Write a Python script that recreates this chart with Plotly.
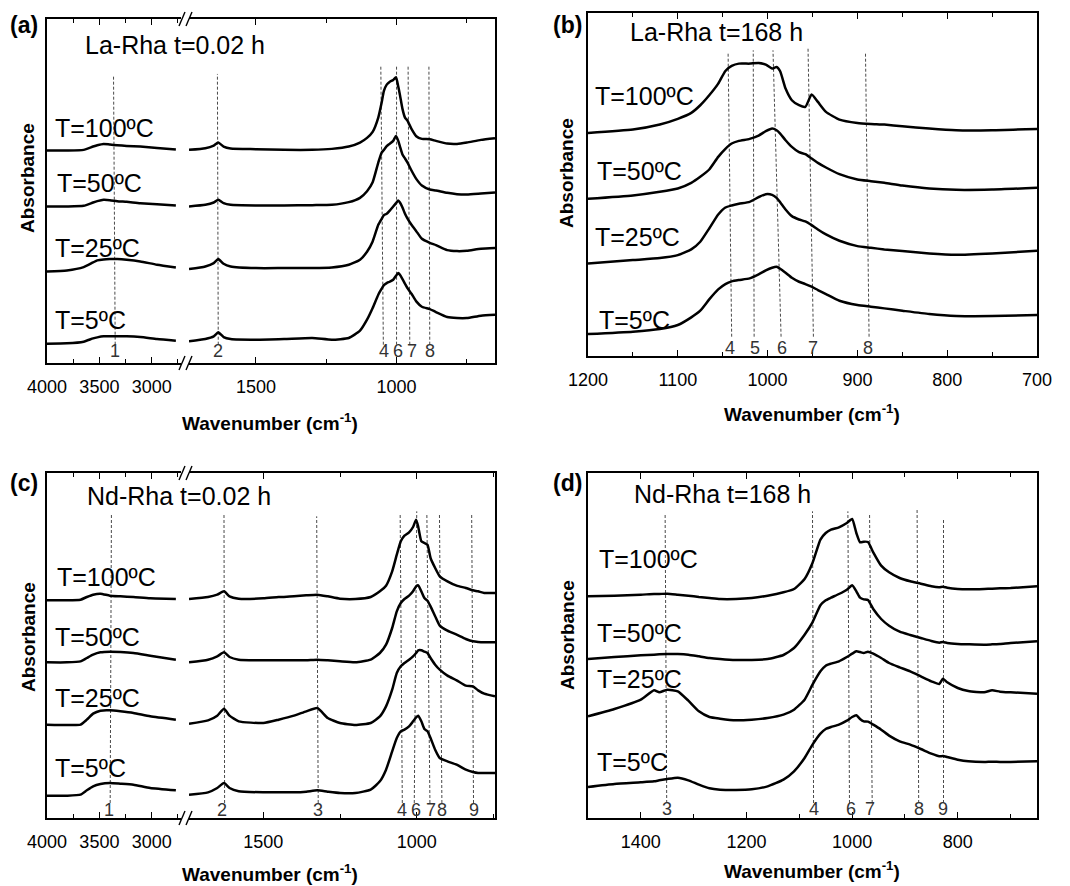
import plotly.graph_objects as go

# ---------------------------------------------------------------------------
# FTIR spectra (absorbance in arbitrary units, curves stacked by temperature)
# ---------------------------------------------------------------------------
TEMP_LABELS = ["T=100ºC", "T=50ºC", "T=25ºC", "T=5ºC"]

# (a) La-Rha, t = 0.02 h  -- high-wavenumber segment
A_WN_HI = [4000, 3810, 3650, 3560, 3520, 3460, 3400, 3330, 3240, 3110, 2950, 2770]
A_HI_T100 = [0.638, 0.638, 0.640, 0.650, 0.654, 0.658, 0.656, 0.654, 0.652, 0.650, 0.646, 0.641]
A_HI_T50 = [0.470, 0.470, 0.472, 0.482, 0.486, 0.490, 0.489, 0.486, 0.484, 0.480, 0.477, 0.473]
A_HI_T25 = [0.275, 0.278, 0.288, 0.302, 0.308, 0.311, 0.312, 0.312, 0.310, 0.305, 0.295, 0.287]
A_HI_T5 = [0.058, 0.059, 0.064, 0.074, 0.077, 0.080, 0.080, 0.080, 0.080, 0.078, 0.072, 0.067]

# (a) La-Rha, t = 0.02 h  -- fingerprint segment
A_WN_LO = [1738, 1680, 1650, 1634, 1615, 1590, 1500, 1400, 1300, 1230, 1170, 1130,
           1105, 1085, 1065, 1053, 1045, 1035, 1025, 1012, 1002, 994, 988, 979,
           970, 962, 947, 930, 910, 882, 860, 820, 785, 750, 700, 650]
A_LO_T100 = [0.640, 0.645, 0.653, 0.662, 0.650, 0.644, 0.642, 0.640, 0.640, 0.643, 0.650, 0.662,
             0.676, 0.694, 0.737, 0.782, 0.817, 0.836, 0.844, 0.850, 0.858, 0.830, 0.805, 0.763,
             0.737, 0.729, 0.703, 0.681, 0.673, 0.672, 0.667, 0.659, 0.658, 0.662, 0.670, 0.675]
A_LO_T50 = [0.470, 0.475, 0.482, 0.490, 0.480, 0.475, 0.473, 0.473, 0.474, 0.475, 0.483, 0.496,
            0.516, 0.543, 0.602, 0.632, 0.640, 0.651, 0.658, 0.667, 0.682, 0.667, 0.650, 0.626,
            0.614, 0.603, 0.578, 0.553, 0.533, 0.521, 0.518, 0.511, 0.507, 0.506, 0.509, 0.512]
A_LO_T25 = [0.282, 0.290, 0.300, 0.312, 0.298, 0.290, 0.285, 0.285, 0.285, 0.287, 0.295, 0.310,
            0.334, 0.365, 0.415, 0.433, 0.444, 0.448, 0.457, 0.470, 0.480, 0.488, 0.482, 0.467,
            0.448, 0.435, 0.415, 0.396, 0.373, 0.361, 0.354, 0.339, 0.336, 0.337, 0.343, 0.345]
A_LO_T5 = [0.065, 0.072, 0.080, 0.092, 0.078, 0.072, 0.070, 0.072, 0.075, 0.070, 0.075, 0.097,
           0.130, 0.165, 0.205, 0.223, 0.234, 0.240, 0.244, 0.250, 0.262, 0.270, 0.265, 0.252,
           0.238, 0.226, 0.208, 0.185, 0.169, 0.162, 0.153, 0.138, 0.135, 0.135, 0.142, 0.145]

# (b) La-Rha, t = 168 h
B_WN = [1200, 1150, 1120, 1100, 1085, 1075, 1065, 1055, 1047, 1040, 1032, 1020, 1010, 1002,
        995, 990, 986, 980, 973, 965, 958, 951, 944, 935, 920, 900, 885, 870, 850, 820,
        790, 750, 700]
B_T100 = [0.670, 0.680, 0.695, 0.712, 0.730, 0.753, 0.783, 0.818, 0.856, 0.871, 0.878, 0.878,
          0.880, 0.875, 0.863, 0.868, 0.855, 0.803, 0.768, 0.753, 0.748, 0.785, 0.763, 0.733,
          0.710, 0.700, 0.697, 0.695, 0.690, 0.683, 0.678, 0.678, 0.682]
B_T50 = [0.472, 0.482, 0.493, 0.503, 0.520, 0.538, 0.560, 0.598, 0.622, 0.638, 0.646, 0.652,
         0.662, 0.675, 0.683, 0.678, 0.668, 0.648, 0.628, 0.612, 0.606, 0.593, 0.580, 0.566,
         0.546, 0.530, 0.525, 0.520, 0.512, 0.503, 0.499, 0.500, 0.505]
B_T25 = [0.278, 0.288, 0.294, 0.303, 0.320, 0.343, 0.383, 0.425, 0.446, 0.452, 0.457, 0.463,
         0.477, 0.486, 0.484, 0.475, 0.462, 0.440, 0.420, 0.410, 0.404, 0.393, 0.380, 0.365,
         0.346, 0.330, 0.325, 0.320, 0.315, 0.308, 0.304, 0.308, 0.316]
B_T5 = [0.066, 0.073, 0.081, 0.093, 0.116, 0.136, 0.170, 0.200, 0.216, 0.224, 0.228, 0.233,
        0.245, 0.257, 0.265, 0.268, 0.262, 0.250, 0.235, 0.223, 0.216, 0.208, 0.198, 0.186,
        0.166, 0.153, 0.148, 0.143, 0.136, 0.126, 0.120, 0.120, 0.123]

# (c) Nd-Rha, t = 0.02 h  -- high-wavenumber segment
C_WN_HI = [4000, 3810, 3680, 3620, 3560, 3490, 3400, 3300, 3175, 3015, 2770]
C_HI_T100 = [0.653, 0.653, 0.655, 0.663, 0.670, 0.673, 0.667, 0.665, 0.663, 0.659, 0.657]
C_HI_T50 = [0.467, 0.467, 0.470, 0.480, 0.490, 0.497, 0.499, 0.498, 0.495, 0.487, 0.475]
C_HI_T25 = [0.280, 0.279, 0.280, 0.295, 0.313, 0.322, 0.323, 0.320, 0.315, 0.305, 0.295]
C_HI_T5 = [0.067, 0.067, 0.070, 0.083, 0.095, 0.102, 0.105, 0.103, 0.100, 0.090, 0.083]

# (c) Nd-Rha, t = 0.02 h  -- fingerprint segment
C_WN_LO = [1742, 1680, 1650, 1628, 1610, 1580, 1500, 1450, 1400, 1360, 1324, 1290, 1250,
           1200, 1150, 1120, 1100, 1080, 1065, 1052, 1040, 1025, 1012, 1002, 995, 985,
           975, 965, 955, 940, 925, 900, 870, 840, 817, 800, 780, 745]
C_LO_T100 = [0.657, 0.663, 0.670, 0.680, 0.665, 0.658, 0.659, 0.663, 0.665, 0.668, 0.670, 0.665,
             0.658, 0.657, 0.663, 0.680, 0.697, 0.740, 0.790, 0.830, 0.847, 0.857, 0.873, 0.895,
             0.873, 0.830, 0.825, 0.820, 0.780, 0.750, 0.725, 0.710, 0.697, 0.690, 0.683, 0.680,
             0.675, 0.675]
C_LO_T50 = [0.467, 0.475, 0.485, 0.497, 0.483, 0.475, 0.473, 0.473, 0.473, 0.473, 0.475, 0.473,
            0.470, 0.467, 0.475, 0.495, 0.520, 0.570, 0.620, 0.645, 0.657, 0.667, 0.680, 0.695,
            0.698, 0.680, 0.660, 0.652, 0.635, 0.605, 0.577, 0.562, 0.550, 0.537, 0.530, 0.528,
            0.527, 0.527]
C_LO_T25 = [0.283, 0.293, 0.307, 0.328, 0.307, 0.290, 0.285, 0.295, 0.307, 0.320, 0.330, 0.300,
            0.285, 0.279, 0.285, 0.305, 0.335, 0.385, 0.435, 0.455, 0.465, 0.475, 0.485, 0.495,
            0.503, 0.503, 0.499, 0.495, 0.480, 0.460, 0.445, 0.427, 0.413, 0.397, 0.395, 0.383,
            0.373, 0.365]
C_LO_T5 = [0.070, 0.077, 0.090, 0.105, 0.090, 0.080, 0.077, 0.077, 0.077, 0.079, 0.083, 0.079,
           0.075, 0.075, 0.085, 0.110, 0.145, 0.200, 0.240, 0.260, 0.265, 0.275, 0.290, 0.302,
           0.307, 0.290, 0.267, 0.260, 0.240, 0.205, 0.180, 0.170, 0.160, 0.145, 0.138, 0.135,
           0.135, 0.135]

# (d) Nd-Rha, t = 168 h
D_WN = [1500, 1450, 1400, 1375, 1365, 1350, 1330, 1310, 1290, 1270, 1250, 1220, 1190, 1160,
        1130, 1110, 1090, 1075, 1060, 1050, 1040, 1025, 1010, 1000, 992, 985, 978, 970, 960,
        945, 930, 910, 890, 870, 850, 835, 828, 820, 800, 780, 750, 735, 720, 700, 650]
D_T100 = [0.665, 0.667, 0.670, 0.672, 0.672, 0.673, 0.670, 0.667, 0.663, 0.660, 0.657, 0.657,
          0.660, 0.667, 0.677, 0.687, 0.717, 0.765, 0.835, 0.855, 0.865, 0.872, 0.885, 0.897,
          0.855, 0.827, 0.829, 0.828, 0.797, 0.757, 0.737, 0.720, 0.710, 0.703, 0.695, 0.692,
          0.694, 0.691, 0.687, 0.686, 0.687, 0.688, 0.689, 0.690, 0.695]
D_T50 = [0.477, 0.483, 0.488, 0.490, 0.491, 0.492, 0.492, 0.490, 0.485, 0.480, 0.477, 0.474,
         0.474, 0.477, 0.489, 0.510, 0.550, 0.587, 0.638, 0.653, 0.661, 0.672, 0.685, 0.698,
         0.680, 0.661, 0.656, 0.654, 0.627, 0.597, 0.577, 0.559, 0.549, 0.540, 0.531, 0.526,
         0.528, 0.525, 0.522, 0.521, 0.520, 0.521, 0.522, 0.525, 0.530]
D_T25 = [0.305, 0.327, 0.355, 0.383, 0.377, 0.385, 0.380, 0.352, 0.320, 0.303, 0.298, 0.293,
         0.295, 0.300, 0.310, 0.325, 0.355, 0.400, 0.440, 0.457, 0.463, 0.470, 0.483, 0.493,
         0.500, 0.498, 0.495, 0.499, 0.493, 0.480, 0.465, 0.452, 0.440, 0.425, 0.410, 0.402,
         0.418, 0.407, 0.390, 0.381, 0.377, 0.383, 0.379, 0.377, 0.373]
D_T5 = [0.093, 0.102, 0.107, 0.110, 0.113, 0.117, 0.121, 0.113, 0.100, 0.089, 0.085, 0.084,
        0.086, 0.095, 0.115, 0.140, 0.180, 0.220, 0.253, 0.267, 0.273, 0.280, 0.292, 0.303,
        0.308, 0.297, 0.290, 0.289, 0.280, 0.265, 0.247, 0.230, 0.220, 0.207, 0.193, 0.185,
        0.186, 0.183, 0.175, 0.170, 0.168, 0.169, 0.168, 0.168, 0.170]

# Assigned bands: label, wavenumber at top / bottom of the guide line, top level
A_BAND_LABELS = ["1", "2", "4", "6", "7", "8"]
A_BAND_TOP = [3365, 1637, 1056, 1000, 959, 885]
A_BAND_BOT = [3349, 1634, 1047, 1000, 953, 882]
A_BAND_LEVEL = [0.865, 0.868, 0.895, 0.892, 0.895, 0.895]
A_BAND_TEXT_AT = [3349, 1634, 1046, 995, 945, 882]

B_BAND_LABELS = ["4", "5", "6", "7", "8"]
B_BAND_TOP = [1044, 1016, 994, 955, 891]
B_BAND_BOT = [1040, 1015, 985, 949, 887]
B_BAND_LEVEL = [0.913, 0.918, 0.918, 0.928, 0.913]
B_BAND_TEXT_AT = [1042, 1014, 984, 950, 888]

C_BAND_LABELS = ["1", "2", "3", "4", "6", "7", "8", "9"]
C_BAND_TOP = [3385, 1628, 1326, 1054, 1000, 967, 926, 821]
C_BAND_BOT = [3397, 1626, 1321, 1047, 1008, 957, 918, 815]
C_BAND_LEVEL = [0.915, 0.915, 0.905, 0.915, 0.920, 0.913, 0.915, 0.915]
C_BAND_TEXT_AT = [3413, 1633, 1321, 1049, 1002, 953, 918, 815]

D_BAND_LABELS = ["3", "4", "6", "7", "8", "9"]
D_BAND_TOP = [1354, 1075, 1008, 967, 877, 827]
D_BAND_BOT = [1351, 1073, 1005, 962, 874, 827]
D_BAND_LEVEL = [0.915, 0.920, 0.920, 0.915, 0.925, 0.895]
D_BAND_TEXT_AT = [1350, 1073, 1003, 966, 873, 828]

# ---------------------------------------------------------------------------
# Layout helpers (page is 1070 x 886 px, no margins)
# ---------------------------------------------------------------------------
W, H = 1070, 886
FONT = "Arial, Liberation Sans, Helvetica, sans-serif"


def fx(p):
    return p / W


def fy(p):
    return 1 - p / H


fig = go.Figure()


def add_curve(wn, ab, xa, ya):
    fig.add_trace(go.Scatter(
        x=wn, y=ab, mode="lines", xaxis=xa, yaxis=ya, hoverinfo="skip",
        line=dict(color="black", width=2.5, shape="spline", smoothing=0.5)))


for series in (A_HI_T100, A_HI_T50, A_HI_T25, A_HI_T5):
    add_curve(A_WN_HI, series, "x", "y")
for series in (A_LO_T100, A_LO_T50, A_LO_T25, A_LO_T5):
    add_curve(A_WN_LO, series, "x2", "y2")
for series in (B_T100, B_T50, B_T25, B_T5):
    add_curve(B_WN, series, "x3", "y3")
for series in (C_HI_T100, C_HI_T50, C_HI_T25, C_HI_T5):
    add_curve(C_WN_HI, series, "x4", "y4")
for series in (C_LO_T100, C_LO_T50, C_LO_T25, C_LO_T5):
    add_curve(C_WN_LO, series, "x5", "y5")
for series in (D_T100, D_T50, D_T25, D_T5):
    add_curve(D_WN, series, "x6", "y6")

# ---------------------------------------------------------------------------
# Axes
# ---------------------------------------------------------------------------
def xaxis(domain_px, rng, anchor, dtick, minor_dtick):
    return dict(
        domain=[fx(domain_px[0]), fx(domain_px[1])], range=rng, anchor=anchor,
        automargin=False,
        showline=True, linecolor="black", linewidth=1.5, mirror="ticks",
        ticks="inside", ticklen=6, tickwidth=1.3, tickcolor="black",
        tick0=0, dtick=dtick, showgrid=False, zeroline=False,
        tickfont=dict(family=FONT, size=18, color="black"), ticklabelstandoff=7,
        minor=dict(ticks="inside", ticklen=4, tickwidth=1.3, tickcolor="black",
                   tick0=0, dtick=minor_dtick, showgrid=False))


def yaxis(domain_px, top, anchor, side="left", mirror=False):
    return dict(
        domain=[fy(domain_px[1]), fy(domain_px[0])], range=[0, top], anchor=anchor,
        automargin=False,
        side=side, showline=True, linecolor="black", linewidth=1.5, mirror=mirror,
        ticks="", showticklabels=False, showgrid=False, zeroline=False)


TOP_ROW = (19, 363)
TOP_ROW_B = (13, 356)
BOT_ROW = (473, 818)
LEFT_HI = (47, 181)
LEFT_LO = (189, 495)
RIGHT = (588, 1037)

fig.update_layout(
    xaxis=xaxis(LEFT_HI, [4000, 2721], "y", 500, 250),
    xaxis2=xaxis(LEFT_LO, [1738, 650], "y2", 500, 250),
    xaxis3=xaxis(RIGHT, [1200, 700], "y3", 100, 50),
    xaxis4=xaxis(LEFT_HI, [4000, 2721], "y4", 500, 250),
    xaxis5=xaxis(LEFT_LO, [1742, 745], "y5", 500, 250),
    xaxis6=xaxis(RIGHT, [1500, 650], "y6", 200, 100),
    yaxis=yaxis(TOP_ROW, 1.033, "x"),
    yaxis2=yaxis(TOP_ROW, 1.033, "x2", side="right"),
    yaxis3=yaxis(TOP_ROW_B, 1.030, "x3", mirror=True),
    yaxis4=yaxis(BOT_ROW, 1.035, "x4"),
    yaxis5=yaxis(BOT_ROW, 1.035, "x5", side="right"),
    yaxis6=yaxis(BOT_ROW, 1.035, "x6", mirror=True),
)

# ---------------------------------------------------------------------------
# Band guide lines and their numbers
# ---------------------------------------------------------------------------
shapes = []
annotations = []


def add_bands(labels, tops, bots, levels, text_at, base, text_level, axes_for):
    for lab, t, b, lev, tx in zip(labels, tops, bots, levels, text_at):
        xa, ya = axes_for(t)
        shapes.append(dict(type="line", xref=xa, yref=ya, x0=b, y0=base, x1=t, y1=lev,
                           line=dict(color="#4a4a4a", width=1, dash="3px,2px"), layer="below"))
        annotations.append(dict(x=tx, y=text_level, xref=xa, yref=ya, text=lab, showarrow=False,
                                xanchor="center", yanchor="middle",
                                font=dict(family=FONT, size=18, color="#333333")))


def split_a(w):
    return ("x", "y") if w > 2000 else ("x2", "y2")


def split_c(w):
    return ("x4", "y4") if w > 2000 else ("x5", "y5")


add_bands(A_BAND_LABELS, A_BAND_TOP, A_BAND_BOT, A_BAND_LEVEL, A_BAND_TEXT_AT, 0.055, 0.035, split_a)
add_bands(B_BAND_LABELS, B_BAND_TOP, B_BAND_BOT, B_BAND_LEVEL, B_BAND_TEXT_AT, 0.058, 0.023,
          lambda w: ("x3", "y3"))
add_bands(C_BAND_LABELS, C_BAND_TOP, C_BAND_BOT, C_BAND_LEVEL, C_BAND_TEXT_AT, 0.045, 0.025, split_c)
add_bands(D_BAND_LABELS, D_BAND_TOP, D_BAND_BOT, D_BAND_LEVEL, D_BAND_TEXT_AT, 0.045, 0.028,
          lambda w: ("x6", "y6"))

# Axis-break marks (//) on the broken wavenumber axes
for row in (TOP_ROW, BOT_ROW):
    for yline in row:
        for cx in (182, 189):
            shapes.append(dict(type="line", xref="paper", yref="paper",
                               x0=fx(cx - 3), y0=fy(yline + 7), x1=fx(cx + 3), y1=fy(yline - 7),
                               line=dict(color="black", width=1.4)))

# ---------------------------------------------------------------------------
# Text
# ---------------------------------------------------------------------------
def text(px_x, px_y, s, size, bold=False, xanchor="left", angle=0):
    annotations.append(dict(
        x=fx(px_x), y=fy(px_y), xref="paper", yref="paper", showarrow=False,
        text=f"<b>{s}</b>" if bold else s, xanchor=xanchor, yanchor="middle",
        textangle=angle, font=dict(family=FONT, size=size, color="black")))


PANELS = [
    # letter pos, title, title pos, temperature label positions, x-title pos, y-title pos
    ("(a)", (24, 25), "La-Rha t=0.02 h", (83, 45),
     [(53, 128), (55, 183), (53, 248), (53, 320)], (270, 422), (27, 178)),
    ("(b)", (567, 25), "La-Rha t=168 h", (628, 32),
     [(593, 96), (595, 171), (593, 237), (597, 320)], (812, 413), (567, 173)),
    ("(c)", (24, 483), "Nd-Rha t=0.02 h", (85, 496),
     [(55, 577), (53, 637), (53, 698), (53, 768)], (270, 873), (28, 637)),
    ("(d)", (567, 483), "Nd-Rha t=168 h", (632, 494),
     [(597, 559), (595, 633), (595, 679), (595, 762)], (812, 870), (567, 635)),
]

for letter, lpos, title, tpos, tlabels, xt, yt in PANELS:
    text(lpos[0], lpos[1], letter, 23, bold=True, xanchor="center")
    text(tpos[0], tpos[1], title, 25)
    for lab, pos in zip(TEMP_LABELS, tlabels):
        text(pos[0], pos[1], lab, 25)
    text(xt[0], xt[1], "Wavenumber (cm<sup>-1</sup>)", 19, bold=True, xanchor="center")
    text(yt[0], yt[1], "Absorbance", 19, bold=True, xanchor="center", angle=-90)

fig.update_layout(
    width=W, height=H, margin=dict(l=0, r=0, t=0, b=0, autoexpand=False),
    paper_bgcolor="white", plot_bgcolor="white", showlegend=False,
    shapes=shapes, annotations=annotations,
    font=dict(family=FONT, color="black"),
)

fig.write_html("out.html")
